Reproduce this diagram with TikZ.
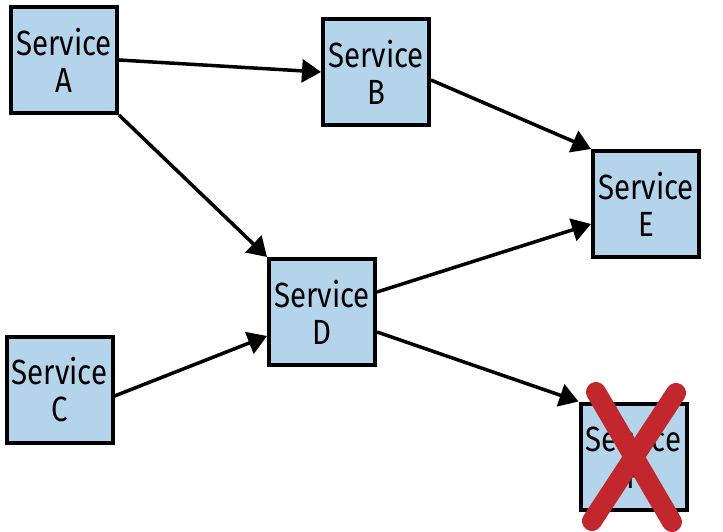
\documentclass[tikz,border=0pt]{standalone}
\usepackage{fontspec}
\setmainfont{Fira Sans}[FakeStretch=0.84]
\usetikzlibrary{arrows.meta,calc}
\definecolor{boxblue}{HTML}{B3D4EA}
\definecolor{xred}{HTML}{C1272D}
\begin{document}
\begin{tikzpicture}[x=1pt,y=-1pt,
  svc/.style={draw=black,line width=4pt,fill=boxblue,minimum width=106pt,minimum height=106pt,
    inner sep=0pt,align=center,font=\fontsize{35}{37}\selectfont},
  conn/.style={line width=3.5pt,-{Triangle[length=19pt,width=23pt]}},
  xline/.style={xred,line width=20pt,line cap=round}]
\useasboundingbox (0,0) rectangle (723,532);
\node[svc] (A) at (64,60) {Service\\A};
\node[svc] (B) at (376,72) {Service\\B};
\node[svc] (E) at (646,204) {Service\\E};
\node[svc] (D) at (322,312) {Service\\D};
\node[svc] (C) at (59.5,390) {Service\\C};
\node[svc] (F) at (633.5,456.5) {Service\\F};
\draw[conn] (A.east) -- (B.west);
\draw[conn] (A.south east) -- (D.north west);
\draw[conn] ($(B.east)+(0,8)$) -- (E.north west);
\draw[conn] ($(D.east)+(0,-20)$) -- ($(E.west)+(0,20)$);
\draw[conn] ($(C.east)+(0,6)$) -- ($(D.west)+(0,24)$);
\draw[conn] ($(D.east)+(0,20)$) -- (F.north west);
\coordinate (x1) at (596,392);
\coordinate (x2) at (672,522);
\coordinate (x3) at (676,393);
\coordinate (x4) at (592,521);
\draw[xline] (x1) -- (x2);
\draw[xline] (x3) -- (x4);
\end{tikzpicture}
\end{document}
